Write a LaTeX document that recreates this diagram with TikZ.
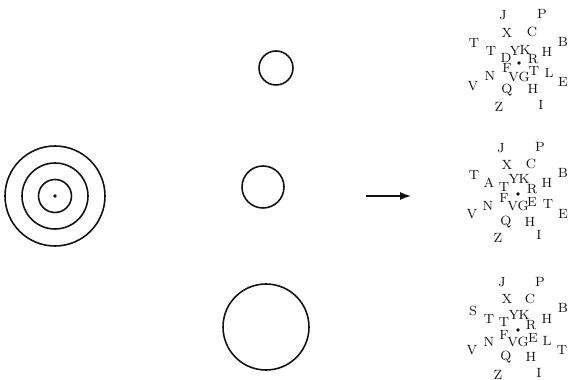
\documentclass[tikz,border=0pt]{standalone}
\usetikzlibrary{arrows.meta}
\definecolor{PrintInk}{HTML}{111111}

\tikzset{
  ring/.style={draw=PrintInk, line width=0.9pt},
  letter/.style={font=\fontsize{7.6}{8}\selectfont, text=PrintInk, inner sep=0pt},
  centredot/.style={circle, fill=PrintInk, inner sep=0pt, minimum size=2.2pt}
}

\begin{document}
\begin{tikzpicture}
  \useasboundingbox (0,0) rectangle (11.38,7.6);

  % concentric target
  \node[centredot] (target) at (1.10,3.68) {};
  \foreach \r in {0.33,0.66,1.00} {
    \draw[ring] (target.center) circle (\r);
  }

  % single circles
  \node[ring, circle, minimum size=6.8mm] (small) at (5.52,6.24) {};
  \node[ring, circle, minimum size=8.4mm] (medium) at (5.26,3.86) {};
  \node[ring, circle, minimum size=17.2mm] (large) at (5.32,1.06) {};

  % arrow
  \coordinate (arrowtail) at (7.32,3.68);
  \coordinate (arrowhead) at (8.22,3.68);
  \draw[PrintInk, line width=0.8pt, -{Latex[length=2.2mm,width=1.6mm]}] (arrowtail) -- (arrowhead);

  % letter cluster, top
  \node[centredot] (dotA) at (10.38,6.34) {};
  \begin{scope}[shift={(dotA)}, x=0.02cm, y=-0.02cm]
    \foreach \lab/\dx/\dy [count=\i] in {J/-16/-48, P/23/-49, X/-12/-30, C/13/-31,
        T/-45/-20, B/44/-21, T/-28/-12, Y/-4/-12, K/6/-13, H/28/-11,
        D/-13/-5, R/14/-4, F/-12/5, VG/0/14, T/15/8, L/30/10, N/-29/13,
        V/-46/23, E/44/19, Q/-12/27, H/14/26, Z/-20/44, I/22/42} {
      \node[letter] (a\i) at (\dx,\dy) {\lab};
    }
  \end{scope}

  % letter cluster, middle
  \node[centredot] (dotB) at (10.36,3.72) {};
  \begin{scope}[shift={(dotB)}, x=0.02cm, y=-0.02cm]
    \foreach \lab/\dx/\dy [count=\i] in {J/-17/-46, P/22/-47, X/-11/-29, C/13/-30,
        T/-44/-19, B/45/-21, A/-29/-11, T/-14/-7, Y/-4/-15, K/6/-15,
        H/29/-11, R/14/-5, F/-14/4, E/14/8, T/30/10, N/-30/12, VG/0/12,
        V/-46/20, E/45/20, Q/-12/28, H/12/28, Z/-20/44, I/21/41} {
      \node[letter] (b\i) at (\dx,\dy) {\lab};
    }
  \end{scope}

  % letter cluster, bottom
  \node[centredot] (dotC) at (10.36,1.00) {};
  \begin{scope}[shift={(dotC)}, x=0.02cm, y=-0.02cm]
    \foreach \lab/\dx/\dy [count=\i] in {J/-16/-48, P/22/-48, X/-11/-31, C/12/-31,
        S/-45/-19, B/45/-22, T/-29/-11, T/-14/-8, Y/-4/-15, K/6/-15,
        H/29/-11, R/13/-5, F/-14/5, E/15/8, L/29/11, N/-29/12, VG/0/12,
        V/-46/20, T/44/20, Q/-12/27, H/13/27, Z/-20/45, I/21/43} {
      \node[letter] (c\i) at (\dx,\dy) {\lab};
    }
  \end{scope}
\end{tikzpicture}
\end{document}
